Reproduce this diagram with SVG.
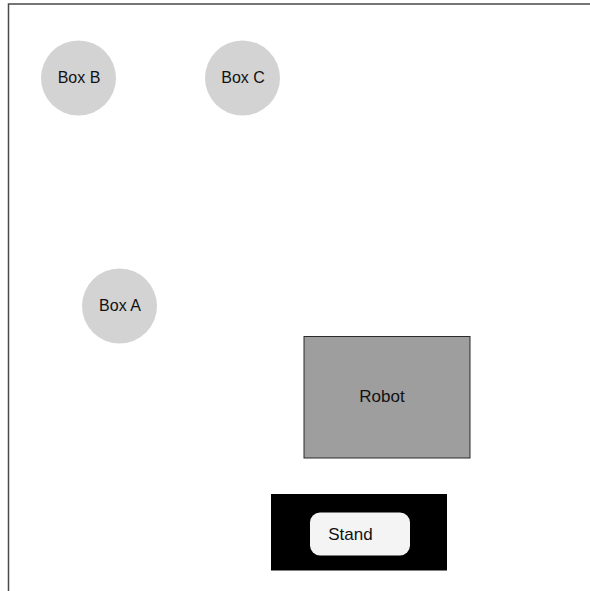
<svg xmlns="http://www.w3.org/2000/svg" width="590" height="591" viewBox="0 0 590 591">
  <style>
    .frame { fill: none; stroke: #4a4a4a; stroke-width: 1.5; }
    .box { fill: #d3d3d3; }
    .label { font-family: "Liberation Sans", Arial, Helvetica, sans-serif; font-size: 16px; fill: #111; text-anchor: middle; }
    .label-lg { font-size: 17px; }
  </style>
  <rect width="590" height="591" fill="#ffffff"/>
  <!-- workspace frame: top and left edges -->
  <polyline class="frame" points="8.5,591 8.5,4 590,4"/>

  <g id="connectors"></g>

  <g id="box-b">
    <circle class="box" cx="78.5" cy="78" r="37.5"/>
    <text class="label" x="79" y="83">Box B</text>
  </g>
  <g id="box-c">
    <circle class="box" cx="242.5" cy="78" r="37.5"/>
    <text class="label" x="243" y="83">Box C</text>
  </g>
  <g id="box-a">
    <circle class="box" cx="119.5" cy="306" r="37.5"/>
    <text class="label" x="120" y="311">Box A</text>
  </g>
  <g id="robot">
    <rect x="304" y="336.5" width="166" height="121.5" fill="#9e9e9e" stroke="#2a2a2a" stroke-width="1"/>
    <text class="label label-lg" x="382" y="402">Robot</text>
  </g>
  <g id="stand">
    <rect x="271" y="494" width="176" height="76.5" fill="#000000"/>
    <rect x="310" y="512.5" width="100" height="43" rx="10" ry="10" fill="#f4f4f4"/>
    <text class="label label-lg" x="350.5" y="540">Stand</text>
  </g>
</svg>
